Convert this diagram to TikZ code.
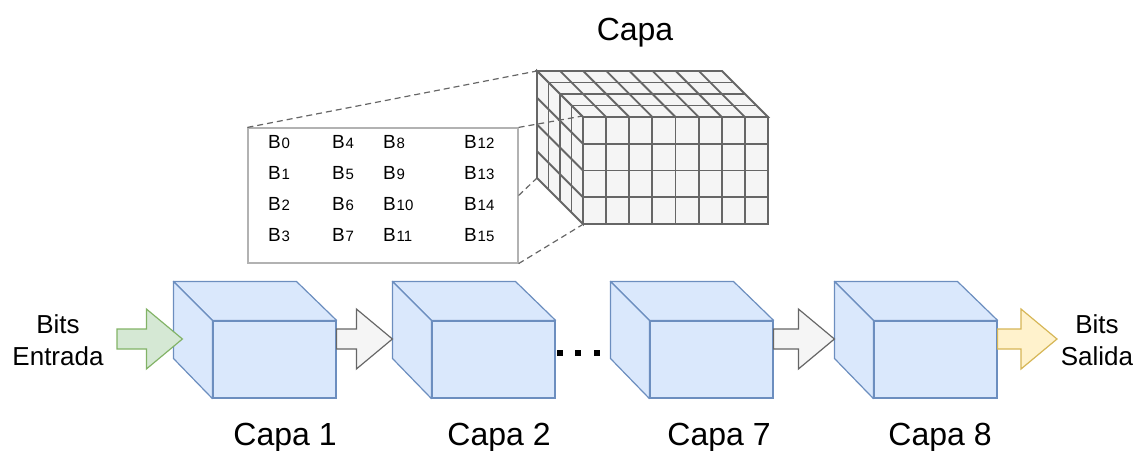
\documentclass[tikz,border=0pt]{standalone}
\usepackage{fontspec}
\setmainfont{Liberation Sans}
\usetikzlibrary{calc}

\definecolor{cuborelleno}{HTML}{DAE8FC}
\definecolor{cuboborde}{HTML}{6C8EBF}
\definecolor{verderelleno}{HTML}{D5E8D4}
\definecolor{verdeborde}{HTML}{82B366}
\definecolor{grisrelleno}{HTML}{F5F5F5}
\definecolor{grisborde}{HTML}{666666}
\definecolor{amarillorelleno}{HTML}{FFF2CC}
\definecolor{amarilloborde}{HTML}{D6B656}

\tikzset{
  cubo/.style={draw=cuboborde, fill=cuborelleno, line width=1.2pt, minimum width=123pt, minimum height=77pt, inner sep=0pt},
  cubolado/.style={draw=cuboborde, fill=cuborelleno, line width=1.2pt, line join=round},
  rejilla/.style={draw=grisborde, fill=grisrelleno, line width=1.8pt},
  flechagris/.style={draw=grisborde, fill=grisrelleno, line width=1.2pt},
  flechaverde/.style={draw=verdeborde, fill=verderelleno, line width=1.2pt},
  flechaamarilla/.style={draw=amarilloborde, fill=amarillorelleno, line width=1.2pt},
  guia/.style={draw=grisborde, dash pattern=on 6pt off 4pt, line width=1.2pt},
  etiqueta/.style={font=\fontsize{32}{36}\selectfont, inner sep=0pt},
  bits/.style={font=\fontsize{26}{32}\selectfont, align=center, inner sep=0pt},
  bit/.style={font=\fontsize{19}{21}\selectfont, inner sep=0pt}
}

% cubo: nombre, x del centro de la cara frontal
\newcommand{\cubo}[2]{%
  \node[cubo] (#1) at (#2,359.5) {};
  \draw[cubolado] (#1.north west) -- ++(-39,-39) -- ++(123,0) -- (#1.north east) -- cycle;
  \draw[cubolado] (#1.north west) -- ++(-39,-39) -- ++(0,77) -- (#1.south west) -- cycle;
}

% flecha de bloque: estilo, inicio, punta
\newcommand{\flecha}[3]{%
  \draw[#1] let \p1=(#2), \p2=(#3) in
    (\x1,\y2+10pt) -- (\x2-36pt,\y2+10pt) -- (\x2-36pt,\y2+30pt) -- (\p2)
    -- (\x2-36pt,\y2-30pt) -- (\x2-36pt,\y2-10pt) -- (\x1,\y2-10pt) -- cycle;
}

\begin{document}
\begin{tikzpicture}[x=1pt, y=-1pt]
  \useasboundingbox (0,0) rectangle (1138,450);

  \node[etiqueta, anchor=base] (titulo) at (635,40) {Capa};

  % recuadro con los bits
  \node[draw=black!30, fill=white, line width=1.2pt, minimum width=270pt, minimum height=135pt, inner sep=0pt] (bloques) at (383,195.5) {};
  \foreach \c/\x in {0/268,1/332,2/383,3/464}
    \foreach \f in {0,...,3} {
      \pgfmathtruncatemacro\n{4*\c+\f}
      \node[bit, anchor=base west] (b\n) at (\x,148+31*\f) {B\hspace{0.8pt}{\fontsize{15}{16}\selectfont\n}};
    }

  % capa en rejilla
  \filldraw[rejilla] (537,71) -- (722,71) -- (768,117) -- (583,117) -- cycle;
  \filldraw[rejilla] (537,71) -- (583,117) -- (583,224) -- (537,178) -- cycle;
  \node[rejilla, minimum width=185pt, minimum height=107pt, inner sep=0pt] (capa) at (675.5,170.5) {};
  \coordinate (capa tras) at (537,71);
  \coordinate (capa tras abajo) at (537,178);
  \foreach \i in {1,...,7} {
    \draw[rejilla] (583+23.125*\i,117) -- (583+23.125*\i,224);
    \draw[rejilla] (537+23.125*\i,71) -- (583+23.125*\i,117);
  }
  \foreach \j in {1,2,3} {
    \draw[rejilla] (583,117+26.75*\j) -- (768,117+26.75*\j);
    \draw[rejilla] (537,71+26.75*\j) -- (583,117+26.75*\j);
  }
  \foreach \k in {1,2,3} {
    \draw[rejilla] (537+11.5*\k,71+11.5*\k) -- (722+11.5*\k,71+11.5*\k);
    \draw[rejilla] (537+11.5*\k,71+11.5*\k) -- (537+11.5*\k,178+11.5*\k);
  }

  \draw[guia] (bloques.north west) -- (capa tras);
  \draw[guia] (bloques.north east) -- (capa.north west);
  \draw[guia] (bloques.east) -- (capa tras abajo);
  \draw[guia] (bloques.south east) -- (capa.south west);

  % cadena de capas
  \cubo{c1}{274.5}
  \cubo{c2}{493.5}
  \cubo{c7}{711.5}
  \cubo{c8}{935.5}

  \node[etiqueta, anchor=base] (e1) at (285,445) {Capa 1};
  \node[etiqueta, anchor=base] (e2) at (499,445) {Capa 2};
  \node[etiqueta, anchor=base] (e7) at (719,445) {Capa 7};
  \node[etiqueta, anchor=base] (e8) at (940,445) {Capa 8};

  \node[bits] (entrada) at (58,340) {Bits\\Entrada};
  \node[bits] (salida) at (1097,340) {Bits\\Salida};

  \coordinate (ent) at (117,339);
  \coordinate (sal) at (1057,339);

  \flecha{flechaverde}{ent}{[xshift=-30pt, yshift=20.5pt]c1.west}
  \flecha{flechagris}{[yshift=20.5pt]c1.east}{[xshift=-39pt, yshift=20.5pt]c2.west}
  \flecha{flechagris}{[yshift=20.5pt]c7.east}{[xshift=-39pt, yshift=20.5pt]c8.west}
  \flecha{flechaamarilla}{[yshift=20.5pt]c8.east}{sal}

  \foreach \x in {560,578,597}
    \fill (\x-3,350) rectangle (\x+3,356);
\end{tikzpicture}
\end{document}
